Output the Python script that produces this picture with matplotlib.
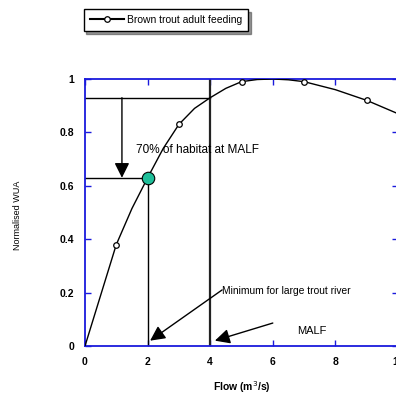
import matplotlib
matplotlib.use("Agg")
import matplotlib.pyplot as plt

plt.rcParams['font.family'] = ['Liberation Sans', 'DejaVu Sans']

# habitat curve (flow in m3/s vs normalised WUA)
flow = [0, 0.5, 1, 1.5, 2, 2.5, 3, 3.5, 4, 4.5, 5, 5.5, 6, 6.5, 7, 7.5, 8, 8.5, 9, 9.5, 10]
wua = [0, 0.19, 0.38, 0.515, 0.63, 0.74, 0.83, 0.89, 0.93, 0.965, 0.99, 0.998, 1.0,
       0.997, 0.99, 0.975, 0.96, 0.94, 0.92, 0.895, 0.87]
# surveyed points shown as markers
pt_flow = [1, 3, 5, 7, 9]
pt_wua = [0.38, 0.83, 0.99, 0.99, 0.92]

malf = 4
malf_wua = 0.93
min_flow = 2
min_wua = 0.63

blue = '#1a1adc'

fig = plt.figure(figsize=(3.96, 3.94), dpi=100)
ax = fig.add_axes([85 / 396, 1 - 346 / 394, 313 / 396, 267 / 394])

ax.plot(flow, wua, color='black', lw=1.0, zorder=3)
ax.plot(pt_flow, pt_wua, 'o', mfc='white', mec='black', ms=4, mew=0.9, zorder=4)

# reference lines for minimum flow and MALF
ax.plot([0, malf], [malf_wua, malf_wua], color='black', lw=1.0)
ax.plot([malf, malf], [0, 1], color='#222222', lw=1.6)
ax.plot([0, min_flow], [min_wua, min_wua], color='black', lw=1.0)
ax.plot([min_flow, min_flow], [0, min_wua], color='black', lw=1.0)
ax.plot([min_flow], [min_wua], 'o', color='#1fbf9a', mec='black', mew=0.8, ms=9, zorder=5)

arrow = dict(arrowstyle='-|>,head_length=0.9,head_width=0.45', color='black', lw=1.0,
             shrinkA=0, shrinkB=0)
ax.annotate('', xy=(1.18, min_wua), xytext=(1.18, malf_wua), arrowprops=arrow)
ax.text(1.63, 0.734, '70% of habitat at MALF', fontsize=8.5, va='center', ha='left')

ax.annotate('', xy=(2.08, 0.02), xytext=(4.38, 0.21), arrowprops=arrow)
ax.text(4.38, 0.205, 'Minimum for large trout river', fontsize=7.4, va='center', ha='left')

ax.annotate('', xy=(4.15, 0.02), xytext=(6.0, 0.086), arrowprops=arrow)
ax.text(7.25, 0.056, 'MALF', fontsize=8, va='center', ha='center')

ax.set_xlim(0, 10)
ax.set_ylim(0, 1)
ax.set_xticks([0, 2, 4, 6, 8, 10])
ax.set_yticks([0, 0.2, 0.4, 0.6, 0.8, 1])
ax.set_yticklabels(['0', '0.2', '0.4', '0.6', '0.8', '1'])
ax.tick_params(direction='in', length=4, width=1, color=blue, labelsize=7.5,
               top=True, right=True, pad=8)
for lab in ax.get_xticklabels() + ax.get_yticklabels():
    lab.set_fontweight('bold')
for s in ax.spines.values():
    s.set_color(blue)
    s.set_linewidth(1.3)

ax.set_xlabel('Flow (m$^3$/s)', fontsize=7.5, fontweight='bold', labelpad=9)
fig.text(18 / 396, 1 - 215 / 394, 'Normalised WUA', rotation=90, fontsize=6.5,
         va='center', ha='center')

leg = fig.legend([ax.lines[1]], ['Brown trout adult feeding'], loc='center',
                 bbox_to_anchor=(166 / 396, 1 - 20 / 394), fontsize=7.5, frameon=True,
                 shadow={'color': '#333333'}, fancybox=False, handlelength=3.3,
                 borderpad=0.6, handletextpad=0.25)
leg.legend_handles[0].set_linestyle('-')
leg.legend_handles[0].set_color('black')
leg.legend_handles[0].set_markerfacecolor('white')
leg.get_frame().set_edgecolor('black')
leg.get_frame().set_linewidth(1.0)

fig.savefig('out.png', dpi=100)
